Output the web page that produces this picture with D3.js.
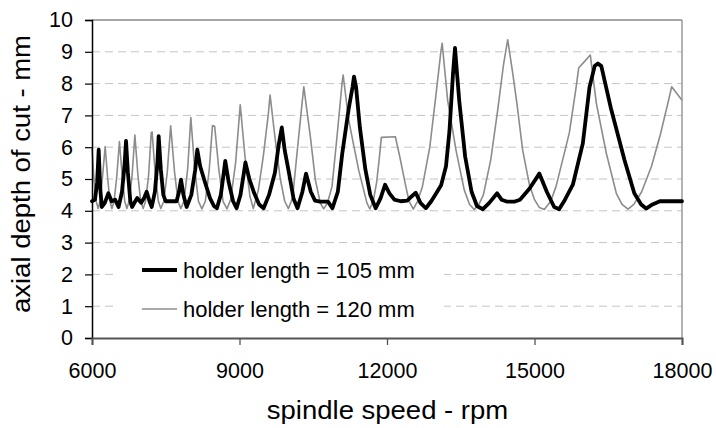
<!DOCTYPE html>
<html>
<head>
<meta charset="utf-8">
<script src="https://cdn.jsdelivr.net/npm/d3@7"></script>
<style>
  html, body { margin: 0; padding: 0; background: #fff; }
  svg { display: block; }
  text { font-family: "Liberation Sans", Arial, sans-serif; fill: #000; }
</style>
</head>
<body>
<svg id="chart" width="716" height="428"></svg>
<script>
// ---------- data ----------
const xTicks = [6000, 9000, 12000, 15000, 18000];
const yTicks = [0, 1, 2, 3, 4, 5, 6, 7, 8, 9, 10];
const gridValues = [1, 2, 3, 4, 5, 6, 7, 8, 9];
const seriesNames = ["holder length = 105 mm", "holder length = 120 mm"];

const speed120 = [6000,6040,6085,6125,6165,6215,6268,6320,6365,6405,6450,6505,6558,6615,6665,6710,6755,6815,6872,6935,6990,7040,7090,7150,7205,7222,7290,7350,7400,7460,7530,7600,7680,7750,7805,7870,7945,8010,8090,8165,8235,8305,8385,8450,8495,8580,8665,8745,8820,8920,9015,9112,9213,9281,9383,9485,9586,9622,9722,9830,9920,9995,10080,10170,10272,10308,10441,10543,10644,10712,10790,10881,10983,11085,11108,11220,11424,11593,11650,11720,11790,11840,11885,12170,12260,12383,12450,12535,12620,12720,12870,13000,13095,13122,13233,13403,13572,13680,13775,13870,13960,14110,14250,14370,14455,14560,14640,14760,14900,15000,15100,15200,15330,15437,15573,15708,15844,15900,16020,16135,16258,16461,16664,16780,16902,17020,17180,17380,17560,17700,17790,18000];
const depth120 = [5.95,5.0,4.3,4.07,4.3,5.1,6.02,5.0,4.3,4.07,4.3,5.1,6.18,5.1,4.3,4.07,4.3,5.1,6.38,5.1,4.3,4.07,4.3,5.1,6.45,6.48,5.1,4.3,4.07,4.3,5.2,6.67,5.2,4.3,4.07,4.3,5.3,6.93,5.3,4.3,4.06,4.3,5.3,6.68,6.66,5.3,4.3,4.06,4.35,5.5,7.33,5.7,4.45,4.07,4.65,5.73,7.04,7.64,6.3,5.0,4.3,4.07,4.4,5.81,7.38,7.9,6.33,4.97,4.24,4.06,4.25,4.76,6.33,8.0,8.27,6.86,5.28,4.24,4.06,4.3,4.9,5.6,6.31,6.33,5.7,4.76,4.3,4.05,4.3,4.76,6.0,7.7,9.0,9.27,7.48,5.91,4.65,4.2,4.04,4.2,4.5,5.6,7.15,8.6,9.38,8.3,7.4,5.9,4.8,4.35,4.1,4.04,4.3,4.76,5.6,6.45,7.86,8.5,8.7,8.9,7.38,5.81,4.55,4.2,4.05,4.2,4.6,5.4,6.4,7.3,7.9,7.48];

const speed105 = [6000,6060,6105,6136,6168,6200,6260,6332,6400,6470,6540,6610,6660,6692,6730,6780,6815,6880,6920,7000,7060,7112,7170,7215,7280,7330,7356,7400,7450,7500,7720,7770,7810,7860,7925,8020,8100,8142,8200,8298,8400,8480,8540,8620,8680,8710,8780,8870,8940,9020,9090,9120,9200,9300,9400,9490,9600,9720,9800,9860,9920,10000,10100,10180,10280,10353,10450,10536,10640,10800,10890,11000,11090,11220,11300,11329,11370,11450,11560,11660,11770,11870,11960,12050,12150,12280,12413,12500,12585,12680,12790,12900,13020,13100,13200,13270,13342,13383,13420,13470,13590,13720,13830,13950,14080,14240,14330,14433,14600,14705,14900,15098,15250,15400,15500,15620,15780,15983,16118,16224,16290,16359,16550,16830,17030,17170,17270,17400,17550,18000];
const depth105 = [4.3,4.35,4.9,5.92,4.7,4.12,4.25,4.55,4.3,4.35,4.12,4.6,5.4,6.2,5.2,4.3,4.12,4.3,4.4,4.25,4.4,4.6,4.3,4.12,4.6,5.5,6.35,5.3,4.5,4.3,4.3,4.6,4.98,4.5,4.12,4.5,5.3,5.92,5.4,4.9,4.4,4.15,4.08,4.5,5.2,5.57,4.9,4.3,4.08,4.5,5.2,5.52,5.0,4.55,4.2,4.08,4.5,5.2,6.1,6.62,5.9,5.25,4.38,4.08,4.6,5.17,4.6,4.32,4.29,4.29,4.08,4.6,5.8,7.2,7.9,8.22,7.9,6.6,5.3,4.5,4.08,4.4,4.82,4.55,4.35,4.3,4.32,4.45,4.57,4.25,4.08,4.3,4.6,4.8,5.4,6.5,8.3,9.12,8.4,7.45,5.7,4.6,4.15,4.05,4.25,4.55,4.35,4.29,4.29,4.35,4.7,5.17,4.6,4.12,4.05,4.35,4.82,6.12,7.88,8.55,8.63,8.55,7.25,5.6,4.55,4.2,4.07,4.2,4.3,4.3];

// ---------- layout ----------
const svg = d3.select("#chart");
const x = d3.scaleLinear().domain([6000, 18000]).range([92, 682]);
const y = d3.scaleLinear().domain([0, 10]).range([338, 20]);

// gridlines
svg.append("g").selectAll("line").data(gridValues).join("line")
  .attr("x1", x(6000)).attr("x2", x(18000))
  .attr("y1", d => y(d)).attr("y2", d => y(d))
  .attr("stroke", "#c4c4c4").attr("stroke-width", 1)
  .attr("stroke-dasharray", "8,5");

// legend background (hides gridlines behind legend)
svg.append("rect").attr("x", 113).attr("y", 250).attr("width", 331).attr("height", 78)
  .attr("fill", "#fff");

// frame top/right
svg.append("line").attr("x1", x(6000)).attr("x2", x(18000)).attr("y1", y(10)).attr("y2", y(10))
  .attr("stroke", "#8a8a8a").attr("stroke-width", 1.3);
svg.append("line").attr("x1", x(18000)).attr("x2", x(18000)).attr("y1", y(10)).attr("y2", y(0))
  .attr("stroke", "#8a8a8a").attr("stroke-width", 1.3);

// series
const line = d3.line().x(d => x(d[0])).y(d => y(d[1])).curve(d3.curveLinear);
const data120 = speed120.map((s, i) => [s, depth120[i]]);
const data105 = speed105.map((s, i) => [s, depth105[i]]);

svg.append("path").datum(data120).attr("d", line)
  .attr("fill", "none").attr("stroke", "#8c8c8c").attr("stroke-width", 1.6)
  .attr("stroke-linejoin", "round");
svg.append("path").datum(data105).attr("d", line)
  .attr("fill", "none").attr("stroke", "#000").attr("stroke-width", 3.8)
  .attr("stroke-linejoin", "round").attr("stroke-linecap", "round");

// axes
const yAxis = svg.append("g").attr("transform", `translate(${x(6000)},0)`)
  .call(d3.axisLeft(y).tickValues(yTicks).tickFormat(d3.format("d")).tickSize(7).tickPadding(12));
const xAxis = svg.append("g").attr("transform", `translate(0,${y(0)})`)
  .call(d3.axisBottom(x).tickValues(xTicks).tickFormat(d3.format("d")).tickSize(7).tickPadding(18));

yAxis.select(".domain").attr("stroke", "#000").attr("stroke-width", 1.5);
yAxis.selectAll(".tick line").attr("stroke", "#000").attr("stroke-width", 1.2);
xAxis.select(".domain").attr("stroke", "#555").attr("stroke-width", 2);
xAxis.selectAll(".tick line").attr("stroke", "#555").attr("stroke-width", 1.3);
svg.selectAll(".tick text").attr("font-size", "21.5px").attr("font-family", "Liberation Sans, Arial, sans-serif").attr("fill", "#000");

// axis titles
svg.append("text").attr("transform", "translate(387.5,419) scale(1.1,1)")
  .attr("text-anchor", "middle").attr("font-size", "25px").text("spindle speed - rpm");
svg.append("text").attr("transform", "translate(30,174) rotate(-90) scale(1.1,1)")
  .attr("text-anchor", "middle").attr("font-size", "25px").text("axial depth of cut - mm");

// legend
const legendY = [270, 309];
const legendStroke = ["#000", "#8c8c8c"];
const legendWidth = [3.8, 1.6];
seriesNames.forEach((name, i) => {
  svg.append("line").attr("x1", 142).attr("x2", 177).attr("y1", legendY[i]).attr("y2", legendY[i])
    .attr("stroke", legendStroke[i]).attr("stroke-width", legendWidth[i]);
  svg.append("text").attr("x", 183).attr("y", legendY[i] + 7.5)
    .attr("font-size", "22px").text(name);
});
</script>
</body>
</html>
